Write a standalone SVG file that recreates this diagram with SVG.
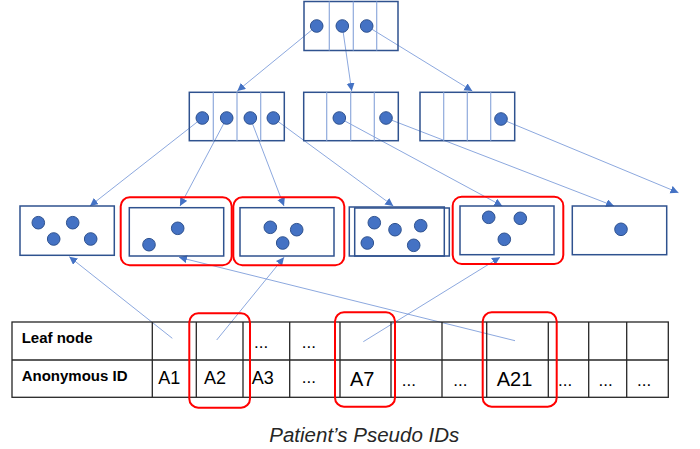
<svg xmlns="http://www.w3.org/2000/svg" width="700" height="449" viewBox="0 0 700 449">
<defs>
<marker id="ah" markerUnits="userSpaceOnUse" markerWidth="9" markerHeight="9" refX="8" refY="4" orient="auto">
<path d="M0,0 L8,4 L0,8 z" fill="#4472C4"/>
</marker>
<style>
.box{fill:none;stroke:#2F528F;stroke-width:1.5}
.div{stroke:#8FAADC;stroke-width:1.2}
.dot{fill:#4472C4;stroke:#2F528F;stroke-width:1}
.hl{fill:none;stroke:#FF0000;stroke-width:2}
.con{fill:none;stroke:#6F92D6;stroke-width:0.8;marker-end:url(#ah)}
.grid{fill:none;stroke:#262626;stroke-width:1.3}
.lbl{font-family:"Liberation Sans",Arial,sans-serif;font-weight:bold;font-size:15px;fill:#000}
.cell{font-family:"Liberation Sans",Arial,sans-serif;font-size:18px;fill:#000}
.dots{font-family:"Liberation Sans",Arial,sans-serif;font-size:17px;fill:#000}
.big{font-family:"Liberation Sans",Arial,sans-serif;font-size:20px;fill:#000}
.cap{font-family:"Liberation Sans",Arial,sans-serif;font-style:italic;font-size:20.5px;fill:#262626}
</style>
</defs>
<rect width="700" height="449" fill="#fff"/>
<g id="connectors">
<line class="con" x1="316.7" y1="26" x2="237.3" y2="91"/>
<line class="con" x1="342.3" y1="26" x2="351.7" y2="91"/>
<line class="con" x1="366.7" y1="26" x2="472.3" y2="91"/>
<line class="con" x1="202.3" y1="118" x2="90" y2="206"/>
<line class="con" x1="226.7" y1="118" x2="180" y2="206"/>
<line class="con" x1="250.3" y1="118" x2="284" y2="206"/>
<line class="con" x1="273.3" y1="118" x2="393.3" y2="206"/>
<line class="con" x1="339.3" y1="118" x2="502.3" y2="206"/>
<line class="con" x1="386" y1="118" x2="614" y2="206"/>
<line class="con" x1="501" y1="119" x2="678.5" y2="192.7"/>
<line class="con" x1="172.3" y1="338.3" x2="69.3" y2="256.7"/>
<line class="con" x1="216.7" y1="340" x2="284" y2="257.3"/>
<line class="con" x1="363.3" y1="341.7" x2="500" y2="257.3"/>
<line class="con" x1="515" y1="340.7" x2="179" y2="257.3"/>
</g>
<g id="root">
<rect class="box" x="304" y="1.5" width="94" height="49"/>
<line class="div" x1="329.3" y1="1.5" x2="329.3" y2="50.5"/>
<line class="div" x1="353.3" y1="1.5" x2="353.3" y2="50.5"/>
<line class="div" x1="376.7" y1="1.5" x2="376.7" y2="50.5"/>
<circle class="dot" cx="316.7" cy="26" r="6.3"/>
<circle class="dot" cx="342.3" cy="26" r="6.3"/>
<circle class="dot" cx="366.7" cy="26" r="6.3"/>
</g>
<g id="inner-left">
<rect class="box" x="189.3" y="92.3" width="95" height="48.4"/>
<line class="div" x1="213.3" y1="92.3" x2="213.3" y2="140.7"/>
<line class="div" x1="237" y1="92.3" x2="237" y2="140.7"/>
<line class="div" x1="260.7" y1="92.3" x2="260.7" y2="140.7"/>
<circle class="dot" cx="202.3" cy="118" r="6.3"/>
<circle class="dot" cx="226.7" cy="118" r="6.3"/>
<circle class="dot" cx="250.3" cy="118" r="6.3"/>
<circle class="dot" cx="273.3" cy="118" r="6.3"/>
</g>
<g id="inner-middle">
<rect class="box" x="303.7" y="92.3" width="94.6" height="48.4"/>
<line class="div" x1="326.7" y1="92.3" x2="326.7" y2="140.7"/>
<line class="div" x1="350.7" y1="92.3" x2="350.7" y2="140.7"/>
<line class="div" x1="374.3" y1="92.3" x2="374.3" y2="140.7"/>
<circle class="dot" cx="339.3" cy="118" r="6.3"/>
<circle class="dot" cx="386" cy="118" r="6.3"/>
</g>
<g id="inner-right">
<rect class="box" x="420" y="92.3" width="94.7" height="48.4"/>
<line class="div" x1="443.7" y1="92.3" x2="443.7" y2="140.7"/>
<line class="div" x1="467.3" y1="92.3" x2="467.3" y2="140.7"/>
<line class="div" x1="490.7" y1="92.3" x2="490.7" y2="140.7"/>
<circle class="dot" cx="501" cy="119" r="6.3"/>
</g>
<g id="leaf1">
<rect class="box" x="20" y="206" width="94.3" height="49.3"/>
<circle class="dot" cx="38.3" cy="222.7" r="6.3"/>
<circle class="dot" cx="72.7" cy="222.7" r="6.3"/>
<circle class="dot" cx="53.7" cy="239" r="6.3"/>
<circle class="dot" cx="90.7" cy="239" r="6.3"/>
</g>
<g id="leaf2">
<rect class="hl" x="120.7" y="197.3" width="111" height="68" rx="9"/>
<rect class="box" x="129.3" y="207.7" width="94.4" height="48.3"/>
<circle class="dot" cx="177.7" cy="228.3" r="6.3"/>
<circle class="dot" cx="149" cy="244.7" r="6.3"/>
</g>
<g id="leaf3">
<rect class="hl" x="233.3" y="197.3" width="111" height="68" rx="9"/>
<rect class="box" x="240" y="207.7" width="94" height="48.3"/>
<circle class="dot" cx="270.3" cy="227.3" r="6.3"/>
<circle class="dot" cx="296.7" cy="229.7" r="6.3"/>
<circle class="dot" cx="282.7" cy="243" r="6.3"/>
</g>
<g id="leaf4">
<rect class="box" x="349.3" y="207" width="95" height="49"/>
<rect class="box" x="354.7" y="208" width="94.6" height="48"/>
<circle class="dot" cx="374.3" cy="222.7" r="6.3"/>
<circle class="dot" cx="395" cy="229.7" r="6.3"/>
<circle class="dot" cx="420.7" cy="225.7" r="6.3"/>
<circle class="dot" cx="367.3" cy="243" r="6.3"/>
<circle class="dot" cx="413.7" cy="245.3" r="6.3"/>
</g>
<g id="leaf5">
<rect class="hl" x="452.7" y="196.7" width="110.6" height="67.3" rx="9"/>
<rect class="box" x="460" y="206" width="94" height="48.7"/>
<circle class="dot" cx="488.7" cy="217.3" r="6.3"/>
<circle class="dot" cx="520.3" cy="218.3" r="6.3"/>
<circle class="dot" cx="504.3" cy="239.3" r="6.3"/>
</g>
<g id="leaf6">
<rect class="box" x="572.3" y="206" width="94.4" height="48.7"/>
<circle class="dot" cx="621" cy="229.3" r="6.3"/>
</g>
<g id="table">
<rect class="grid" x="12" y="322" width="656.3" height="75.3"/>
<line class="grid" x1="12" y1="360" x2="668.3" y2="360"/>
<line class="grid" x1="152.3" y1="322" x2="152.3" y2="397.3"/>
<line class="grid" x1="196.3" y1="322" x2="196.3" y2="397.3"/>
<line class="grid" x1="243" y1="322" x2="243" y2="397.3"/>
<line class="grid" x1="289.7" y1="322" x2="289.7" y2="397.3"/>
<line class="grid" x1="340" y1="322" x2="340" y2="397.3"/>
<line class="grid" x1="391" y1="322" x2="391" y2="397.3"/>
<line class="grid" x1="442" y1="322" x2="442" y2="397.3"/>
<line class="grid" x1="486.7" y1="322" x2="486.7" y2="397.3"/>
<line class="grid" x1="548.3" y1="322" x2="548.3" y2="397.3"/>
<line class="grid" x1="588.7" y1="322" x2="588.7" y2="397.3"/>
<line class="grid" x1="626.7" y1="322" x2="626.7" y2="397.3"/>
<text class="lbl" x="21.7" y="343.3">Leaf node</text>
<text class="lbl" x="21.7" y="381">Anonymous ID</text>
<text class="cell" x="158.3" y="383.5">A1</text>
<text class="cell" x="204" y="383.5">A2</text>
<text class="cell" x="251.7" y="383.5">A3</text>
<text class="dots" x="254" y="348">...</text>
<text class="dots" x="301.7" y="348">...</text>
<text class="dots" x="301.7" y="383">...</text>
<text class="big" x="350" y="386">A7</text>
<text class="dots" x="401.7" y="386">...</text>
<text class="dots" x="453.3" y="386">...</text>
<text class="big" x="496.7" y="386">A21</text>
<text class="dots" x="558" y="386">...</text>
<text class="dots" x="598.5" y="386">...</text>
<text class="dots" x="637" y="386">...</text>
<rect class="hl" x="189.3" y="313.3" width="60.7" height="94.4" rx="9"/>
<rect class="hl" x="335" y="312.3" width="60" height="94.4" rx="9"/>
<rect class="hl" x="482.7" y="312.3" width="74" height="94.4" rx="9"/>
</g>
<text class="cap" x="269.3" y="441.7">Patient’s Pseudo IDs</text>
</svg>
